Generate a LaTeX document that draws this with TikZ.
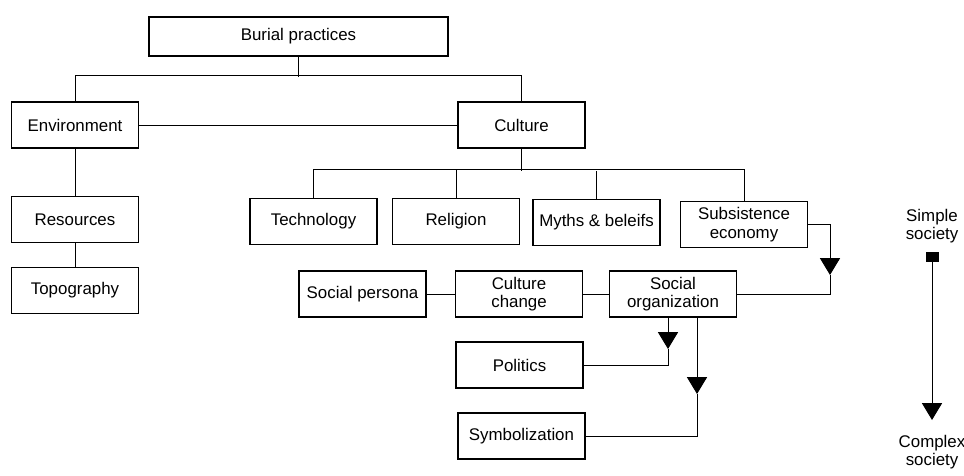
\documentclass[tikz,border=0pt]{standalone}
\usepackage{fontspec}
\setmainfont{Liberation Sans}
\usetikzlibrary{arrows.meta}
\tikzstyle{block} = [
    rectangle,
    minimum width=3.175cm,
    minimum height=1.15cm,
    draw=black,
    line width=0.9pt,
    align=center,
    font=\fontsize{12}{13}\selectfont
]
\tikzstyle{label} = [
    align=center,
    font=\fontsize{12}{13}\selectfont
]
\tikzstyle{line} = [line width=0.7pt]
\tikzstyle{arrow} = [line, -{Triangle[width=0.5cm,length=0.42cm]}]

\begin{document}
\begin{tikzpicture}[x=0.025cm, y=-0.025cm]
\useasboundingbox (0,0) rectangle (964,475);

\node (burial) [block, minimum width=7.475cm, minimum height=0.975cm] at (298.5,36.5) {Burial practices};

\node (env) [block] at (75,125) {Environment};
\node (culture) [block] at (521.5,125) {Culture};

\node (resources) [block] at (75,219.5) {Resources};
\node (topo) [block] at (75,290.5) {Topography};

\node (tech) [block] at (313.5,221.5) {Technology};
\node (religion) [block] at (456,221.5) {Religion};
\node (myths) [block] at (596.5,222.5) {Myths \& beleifs};
\node (subs) [block] at (744,224.5) {Subsistence\\economy};

\node (persona) [block] at (362.5,294) {Social persona};
\node (change) [block] at (519,294) {Culture\\change};
\node (socorg) [block] at (673,294) {Social\\organization};

\node (politics) [block] at (519.5,365) {Politics};
\node (symbol) [block] at (521.5,436) {Symbolization};

\node (simple) [label] at (932,226) {Simple\\society};
\node (square) [rectangle, fill=black, minimum width=0.325cm, minimum height=0.25cm, inner sep=0pt] at (932,256.5) {};
\node (complex) [label] at (932,452) {Complex\\society};

% arrow tips sit part way along their lines
\coordinate (tipA) at (830,275);
\coordinate (tipB) at (668,349);
\coordinate (tipC) at (697,394);
\coordinate (tipD) at (932,420);

\draw [line] (burial.south) -- ++(0,20);
\draw [line] (env.north) -- ++(0,-26) -| (culture.north);
\draw [line] (env) -- (culture);
\draw [line] (env) -- (resources);
\draw [line] (resources) -- (topo);

\draw [line] (culture.south) -- ++(0,22);
\draw [line] (tech.north) -- ++(0,-28) -| (subs.north);
\draw [line] (religion.north) -- ++(0,-28);
\draw [line] (myths.north) -- ++(0,-28);

\draw [line] (persona) -- (change);
\draw [line] (change) -- (socorg);

\draw [arrow] (subs.east) -| (tipA);
\draw [line] (tipA) |- (socorg.east);
\draw [arrow] (socorg.south -| tipB) -- (tipB);
\draw [line] (tipB) |- (politics.east);
\draw [arrow] (socorg.south -| tipC) -- (tipC);
\draw [line] (tipC) |- (symbol.east);

\draw [arrow] (square) -- (tipD);

\end{tikzpicture}
\end{document}
